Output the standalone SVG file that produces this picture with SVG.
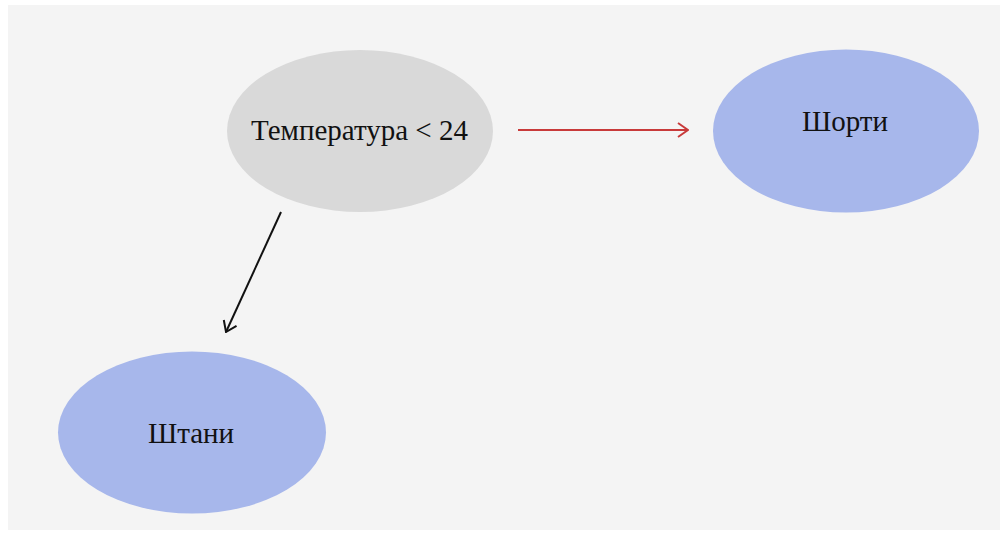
<svg xmlns="http://www.w3.org/2000/svg" width="1006" height="533" viewBox="0 0 1006 533">
<style>
.lbl{font-family:"Liberation Serif","Times New Roman",serif;font-size:29px;fill:#111;text-anchor:middle}
.gray{fill:#d9d9d9}
.blue{fill:#a7b7eb}
.edge{fill:none;stroke-width:2}
</style>
<defs>
<marker id="ahRed" viewBox="0 0 12 16" refX="11" refY="8" markerWidth="12" markerHeight="16" markerUnits="userSpaceOnUse" orient="auto">
<path d="M1,1 L11,8 L1,15" fill="none" stroke="#c83a3a" stroke-width="2"/>
</marker>
<marker id="ahBlack" viewBox="0 0 12 16" refX="11" refY="8" markerWidth="12" markerHeight="16" markerUnits="userSpaceOnUse" orient="auto">
<path d="M1,1 L11,8 L1,15" fill="none" stroke="#111" stroke-width="2"/>
</marker>
</defs>
<rect x="0" y="0" width="1006" height="533" fill="#ffffff"/>
<rect x="8" y="5" width="992" height="525" fill="#f4f4f4"/>
<g id="connectors">
<line class="edge" x1="518" y1="130" x2="688" y2="130" stroke="#c83a3a" marker-end="url(#ahRed)"/>
<line class="edge" x1="281" y1="212" x2="226" y2="332" stroke="#111" marker-end="url(#ahBlack)"/>
</g>
<g id="node-temp">
<ellipse class="gray" cx="360" cy="131" rx="133" ry="81"/>
<text class="lbl" x="359.5" y="140">Температура &lt; 24</text>
</g>
<g id="node-shorts">
<ellipse class="blue" cx="846" cy="131" rx="133" ry="81.5"/>
<text class="lbl" x="845" y="131">Шорти</text>
</g>
<g id="node-pants">
<ellipse class="blue" cx="192" cy="432.5" rx="134" ry="81"/>
<text class="lbl" x="191" y="443">Штани</text>
</g>
</svg>
